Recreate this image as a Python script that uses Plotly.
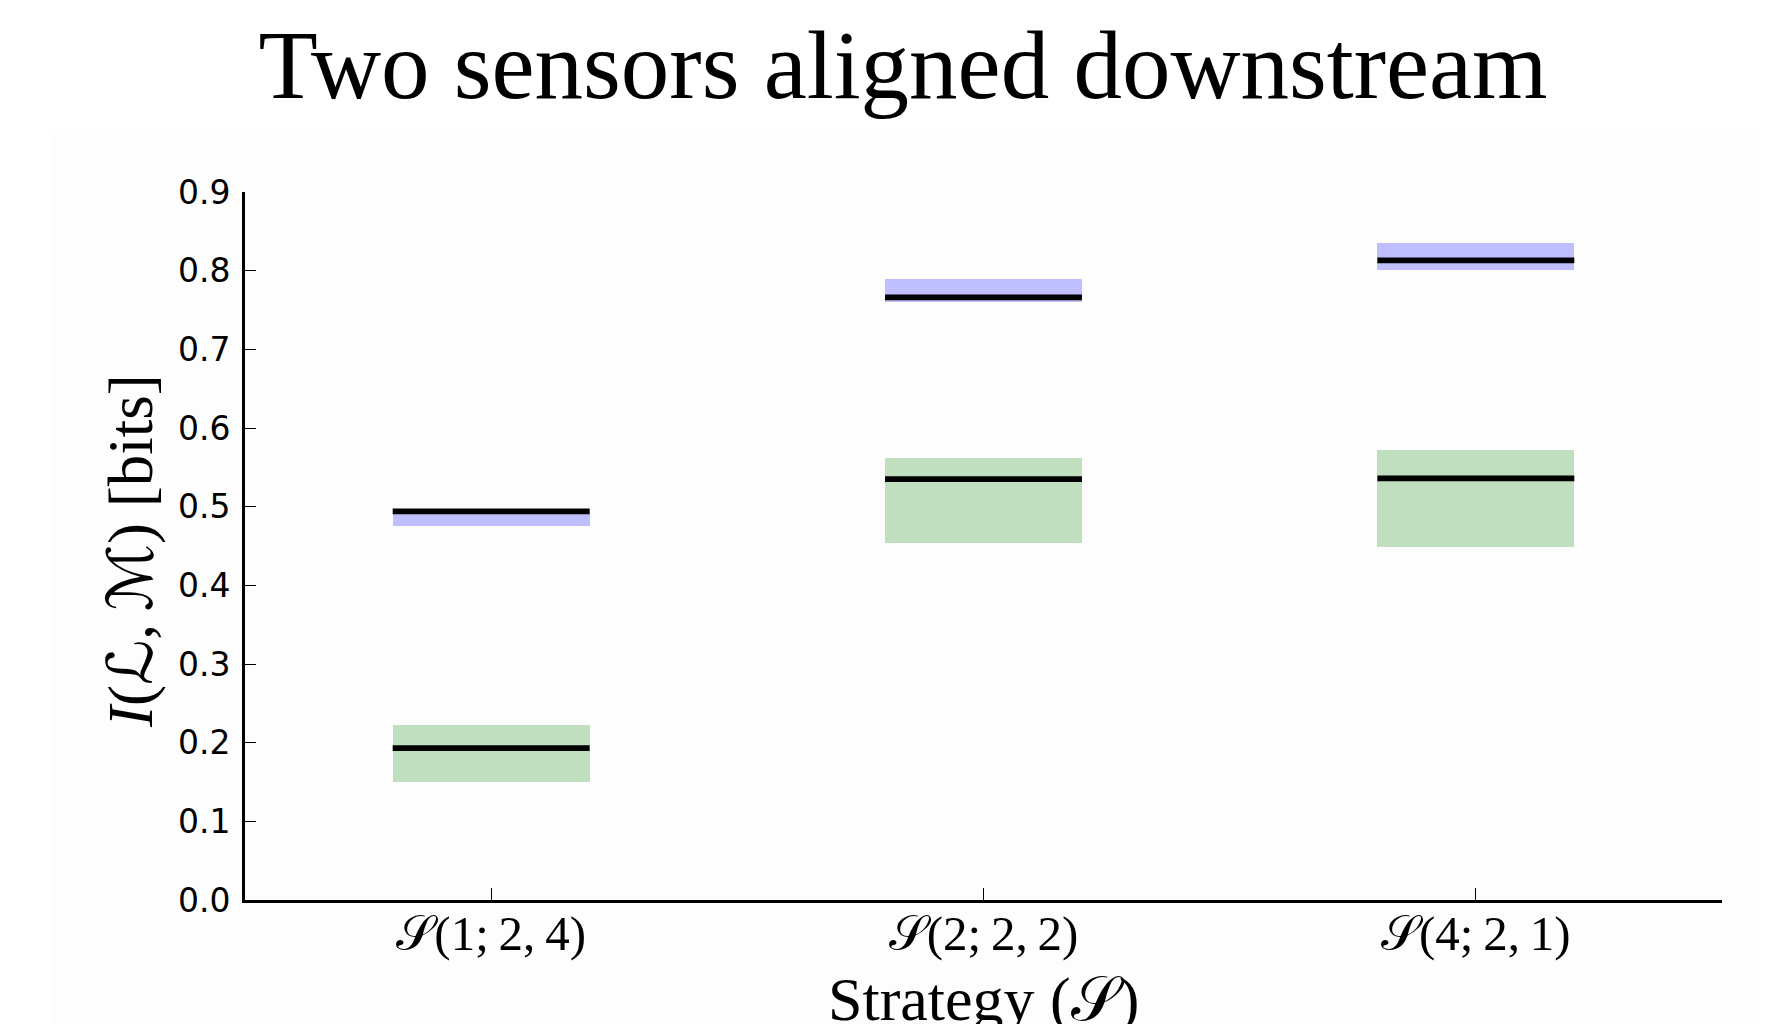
import plotly.graph_objects as go

# ---- data ----
strategies = ["𝒮(1;\u20092,\u20094)", "𝒮(2;\u20092,\u20092)", "𝒮(4;\u20092,\u20091)"]
blue_low = [0.475, 0.760, 0.801]
blue_high = [0.497, 0.790, 0.835]
blue_mid = [0.494, 0.766, 0.813]
green_low = [0.150, 0.454, 0.449]
green_high = [0.222, 0.562, 0.572]
green_mid = [0.193, 0.535, 0.536]
y_ticks = [0.0, 0.1, 0.2, 0.3, 0.4, 0.5, 0.6, 0.7, 0.8, 0.9]

pos = list(range(len(strategies)))
half_w = 0.2

fig = go.Figure()
fig.add_trace(go.Bar(x=pos, y=[h - l for h, l in zip(green_high, green_low)], base=green_low,
                     width=2 * half_w, marker=dict(color="#bfdfbf", line=dict(width=0)),
                     showlegend=False))
fig.add_trace(go.Bar(x=pos, y=[h - l for h, l in zip(blue_high, blue_low)], base=blue_low,
                     width=2 * half_w, marker=dict(color="#bfbfff", line=dict(width=0)),
                     showlegend=False))

lx, ly = [], []
for p, m in zip(pos, blue_mid):
    lx += [p - half_w, p + half_w, None]
    ly += [m, m, None]
for p, m in zip(pos, green_mid):
    lx += [p - half_w, p + half_w, None]
    ly += [m, m, None]
fig.add_trace(go.Scatter(x=lx, y=ly, mode="lines", line=dict(color="black", width=5.8),
                         showlegend=False, hoverinfo="skip"))

serif = "Liberation Serif, DejaVu Serif, DejaVu Sans, serif"

fig.update_layout(
    width=1781, height=1024,
    margin=dict(l=245, r=59, t=192, b=124),
    paper_bgcolor="white", plot_bgcolor="rgba(0,0,0,0)",
    barmode="overlay", bargap=0,
    title=dict(text="Two sensors aligned downstream", x=903 / 1781, xref="container",
               y=1 - 64 / 1024, yref="container", yanchor="middle", xanchor="center",
               font=dict(family=serif, size=97, color="black")),
    xaxis=dict(range=[-0.5, 2.5], tickvals=pos, ticktext=strategies,
               showline=True, linecolor="black", linewidth=3, ticks="inside",
               ticklen=12, tickwidth=1, tickcolor="black", showgrid=False, zeroline=False,
               tickfont=dict(family=serif, size=49, color="black"), mirror=False,
               ticklabelstandoff=-12),
    yaxis=dict(range=[0, 0.9], tickvals=y_ticks, ticktext=[f"{v:.1f}" for v in y_ticks],
               showline=True, linecolor="black", linewidth=3, ticks="inside",
               ticklen=11, tickwidth=1, tickcolor="black", showgrid=False, zeroline=False,
               tickfont=dict(family="DejaVu Sans", size=33, color="black"), mirror=False,
               ticklabelstandoff=5),
    shapes=[dict(type="rect", xref="paper", yref="paper", x0=-0.132, x1=1.0264,
                 y0=-0.2, y1=1.0819, fillcolor="#fdfdfd", line=dict(width=0), layer="below")],
    annotations=[
        dict(text="<i>I</i>(ℒ,\u2009ℳ) [bits]", xref="paper", yref="paper",
             x=(131 - 245) / 1477, y=(900 - 551) / 708, textangle=-90,
             xanchor="center", yanchor="middle", showarrow=False,
             font=dict(family=serif, size=63, color="black")),
        dict(text="Strategy (𝒮)", xref="paper", yref="paper",
             x=0.5, y=-(999 - 900) / 708, xanchor="center", yanchor="middle",
             showarrow=False, font=dict(family=serif, size=62, color="black")),
    ],
)

fig.write_html("out.html")
